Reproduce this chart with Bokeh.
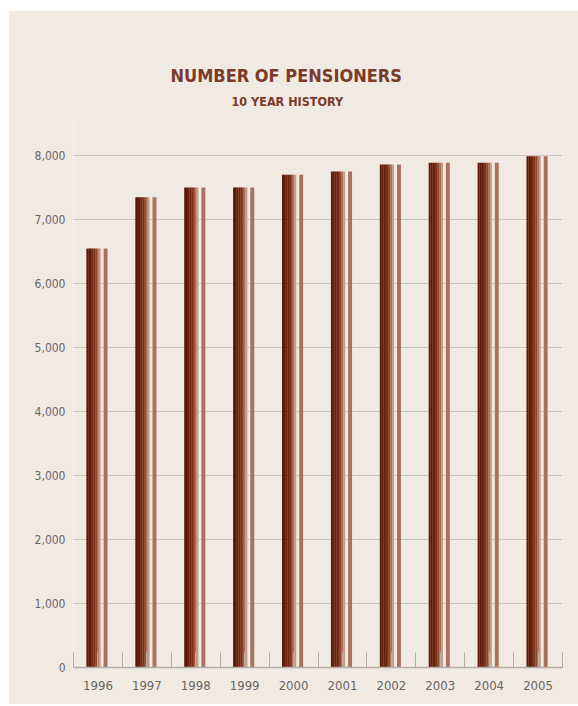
from bokeh.plotting import figure
from bokeh.models import (Range1d, SingleIntervalTicker, FixedTicker,
                          NumeralTickFormatter, Title, ColumnDataSource)
from bokeh.transform import dodge
from bokeh.embed import file_html
from bokeh.resources import INLINE

# ---- data ----
years = [1996, 1997, 1998, 1999, 2000, 2001, 2002, 2003, 2004, 2005]
pensioners = [6550, 7350, 7500, 7500, 7700, 7750, 7860, 7890, 7890, 7990]
y_ticks = [0, 1000, 2000, 3000, 4000, 5000, 6000, 7000, 8000]
title_text = "NUMBER OF PENSIONERS"
subtitle_text = "10 YEAR HISTORY"

# ---- styles ----
BG = "#f1eae3"
TITLE_COLOR = "#7b3a2a"
GRID = "#cbc4bd"
LABEL = "#666666"
TFONT = "DejaVu Sans Condensed"

src = ColumnDataSource(dict(year=years, count=pensioners))

p = figure(width=570, height=694, output_backend="svg", toolbar_location=None,
           x_range=Range1d(years[0] - 0.5, years[-1] + 0.5),
           y_range=Range1d(0, 8580),
           background_fill_color=BG, border_fill_color=BG,
           outline_line_color=None,
           min_border_left=65, min_border_right=16,
           min_border_bottom=37, min_border_top=108)
p.margin = (10, 0, 0, 8)

# main bar as a left-to-right gradient built from thin strips
grad_colors = ["#5a1808", "#5f1b0a", "#661f0d", "#6f2612", "#7b301a",
               "#8d4630", "#a8705b", "#c99b88"]
strip_w = 0.036
start = -0.234
for i, c in enumerate(grad_colors):
    off = start + strip_w * (i + 0.5)
    p.vbar(x=dodge("year", off), top="count", width=strip_w + 0.004,
           source=src, fill_color=c, line_color=None)
# thin companion strip
p.vbar(x=dodge("year", 0.156), top="count", width=0.08, source=src,
       fill_color="#a9705e", line_color=None)

# axes
p.xaxis.ticker = SingleIntervalTicker(interval=1, num_minor_ticks=2)
p.xaxis.major_tick_line_color = None
p.xaxis.major_tick_out = 0
p.xaxis.major_tick_in = 0
p.xaxis.minor_tick_in = 15
p.xaxis.minor_tick_out = 0
p.xaxis.minor_tick_line_color = "#b5aea8"
p.xaxis.axis_line_color = "#b5aea8"
p.xaxis.axis_line_width = 1.5
p.xaxis.major_label_text_font = TFONT
p.xaxis.major_label_text_font_size = "13px"
p.xaxis.major_label_text_color = LABEL
p.xaxis.major_label_standoff = 13

p.yaxis.ticker = FixedTicker(ticks=y_ticks)
p.yaxis.formatter = NumeralTickFormatter(format="0,0")
p.yaxis.axis_line_color = None
p.yaxis.major_tick_line_color = None
p.yaxis.minor_tick_line_color = None
p.yaxis.major_tick_out = 0
p.yaxis.major_label_standoff = 8
p.yaxis.major_label_text_font = TFONT
p.yaxis.major_label_text_font_size = "12px"
p.yaxis.major_label_text_color = LABEL

p.xgrid.grid_line_color = None
p.ygrid.ticker = FixedTicker(ticks=y_ticks)
p.ygrid.grid_line_color = GRID
p.ygrid.grid_line_width = 1.2

# titles (later-added sits further from the frame)
p.add_layout(Title(text=subtitle_text, align="left", offset=158,
                   vertical_align="top",
                   text_font=TFONT, text_font_style="bold",
                   text_font_size="12.5px", text_color=TITLE_COLOR,
                   standoff=16), "above")
p.add_layout(Title(text=title_text, align="left", offset=97,
                   text_font=TFONT, text_font_style="bold",
                   text_font_size="18px", text_color=TITLE_COLOR,
                   standoff=0), "above")

open("out.html", "w").write(file_html(p, INLINE))
